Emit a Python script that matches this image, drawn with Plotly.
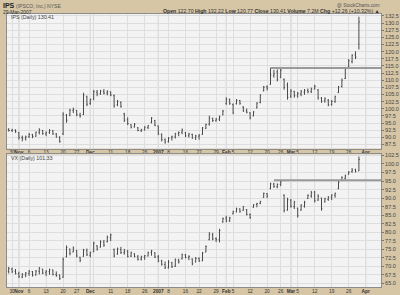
import pandas as pd
import plotly.graph_objects as go

# ---------------- data ----------------
holidays = ['2006-11-23', '2006-12-25', '2007-01-01', '2007-01-02',
            '2007-01-15', '2007-02-19', '2007-04-06']
trading_days = [d.strftime('%Y-%m-%d') for d in pd.bdate_range('2006-10-27', '2007-04-13')
                if d.strftime('%Y-%m-%d') not in holidays]

ips_high = [93.2, 93.0, 92.8, 91.8, 90.6, 90.6, 91.5, 91.2, 92.0, 93.2,
            92.6, 92.1, 92.9, 92.6, 91.5, 90.4, 98.8, 98.2, 100.0, 100.4,
            99.6, 98.6, 105.6, 104.6, 103.6, 106.6, 106.6, 106.6, 106.9, 106.5,
            106.1, 105.0, 103.1, 102.6, 98.6, 97.0, 94.6, 95.0, 93.6, 93.0,
            93.9, 94.3, 97.1, 96.1, 94.1, 91.4, 89.6, 90.1, 90.6, 91.6,
            92.1, 93.1, 91.9, 91.6, 91.3, 90.9, 91.1, 93.6, 94.8, 97.6,
            96.9, 96.8, 97.6, 99.6, 104.0, 103.6, 101.9, 103.4, 103.1, 100.9,
            100.1, 98.8, 99.2, 102.3, 105.1, 108.0, 108.2, 114.4, 113.6, 113.8,
            114.4, 110.6, 109.2, 106.9, 106.3, 105.9, 106.6, 106.9, 107.1, 107.4,
            108.4, 106.9, 104.1, 104.0, 103.4, 103.1, 104.6, 108.0, 110.6, 114.6,
            117.4, 119.1, 120.1, 132.22]
ips_low = [92.0, 91.9, 91.6, 89.2, 88.6, 88.9, 89.8, 89.7, 90.2, 91.0,
           90.9, 90.4, 91.2, 90.9, 89.9, 88.1, 90.8, 95.1, 97.4, 98.5,
           97.4, 96.9, 97.8, 100.9, 101.4, 103.0, 104.4, 104.9, 105.0, 104.7,
           104.4, 100.4, 100.9, 100.4, 95.4, 94.3, 93.1, 93.4, 92.1, 91.9,
           92.4, 92.9, 94.9, 93.9, 90.8, 88.6, 87.8, 88.2, 88.9, 89.6,
           90.4, 91.1, 90.1, 89.9, 89.5, 89.1, 89.2, 90.9, 92.9, 94.1,
           95.4, 95.5, 95.7, 97.7, 101.4, 101.4, 98.1, 101.5, 101.4, 98.9,
           98.4, 96.3, 97.4, 100.1, 101.9, 106.1, 106.4, 108.4, 110.9, 109.6,
           110.7, 106.7, 103.2, 103.8, 103.9, 103.9, 104.4, 104.9, 105.4, 105.5,
           106.7, 103.2, 102.1, 102.1, 100.9, 101.1, 102.1, 105.5, 107.4, 110.4,
           114.4, 115.9, 117.4, 120.77]
ips_open = [92.8, 92.4, 92.5, 91.7, 90.0, 89.5, 90.2, 90.9, 90.4, 91.8,
            92.4, 91.2, 91.7, 92.3, 91.2, 90.0, 91.2, 97.8, 97.8, 99.4,
            99.4, 97.8, 98.0, 104.2, 101.9, 103.4, 105.8, 105.2, 106.1, 105.6,
            105.9, 104.6, 101.4, 102.2, 98.2, 96.2, 94.4, 93.7, 93.4, 92.3,
            92.6, 93.4, 95.2, 95.9, 94.0, 91.0, 89.2, 88.5, 89.8, 90.1,
            91.3, 91.8, 91.6, 90.6, 91.0, 89.9, 90.4, 91.0, 93.2, 94.6,
            96.6, 95.8, 96.3, 97.9, 101.8, 103.2, 101.5, 101.8, 102.9, 100.6,
            99.3, 98.6, 97.5, 100.4, 102.2, 106.3, 107.7, 108.6, 111.6, 112.9,
            111.0, 110.3, 108.3, 104.4, 106.0, 104.5, 105.2, 105.8, 106.4, 106.0,
            107.0, 106.6, 103.8, 102.8, 103.0, 101.5, 102.5, 105.7, 107.8, 110.6,
            114.6, 116.5, 118.9, 122.70]
ips_close = [92.4, 92.6, 91.9, 90.0, 89.6, 90.2, 91.0, 90.3, 91.8, 92.6,
             91.3, 91.7, 92.4, 91.2, 90.1, 88.6, 98.0, 96.0, 99.5, 99.8,
             97.9, 97.5, 104.8, 101.6, 103.2, 106.0, 105.2, 106.2, 105.5, 106.0,
             104.8, 101.0, 102.6, 100.8, 96.0, 94.8, 93.5, 94.6, 92.4, 92.7,
             93.6, 94.1, 96.8, 94.2, 91.2, 89.2, 88.4, 89.7, 90.2, 91.2,
             91.7, 92.6, 90.5, 91.2, 89.8, 90.5, 90.8, 93.3, 94.5, 96.8,
             95.9, 96.4, 97.2, 99.2, 103.4, 101.8, 98.6, 103.0, 101.9, 99.3,
             98.8, 96.8, 98.9, 102.0, 104.8, 107.6, 107.2, 111.8, 112.3, 110.2,
             113.5, 107.4, 104.0, 106.2, 104.6, 105.4, 106.0, 106.5, 106.0, 107.0,
             107.9, 103.8, 102.6, 103.5, 101.4, 102.6, 104.2, 107.6, 110.0, 114.0,
             116.8, 118.7, 118.15, 130.41]

vx_high = [69.8, 69.6, 69.2, 68.4, 68.0, 68.3, 68.9, 68.6, 68.9, 69.8,
           69.2, 68.9, 69.3, 69.0, 68.5, 67.6, 72.6, 76.1, 75.2, 75.8,
           74.8, 72.8, 75.1, 75.2, 74.3, 77.2, 76.2, 77.6, 77.7, 79.0,
           79.6, 75.2, 75.5, 75.7, 75.1, 74.8, 74.3, 73.8, 73.3, 73.1,
           73.3, 74.3, 74.8, 74.1, 73.3, 71.9, 71.4, 71.8, 71.3, 72.3,
           72.2, 73.7, 73.6, 73.2, 72.3, 72.7, 72.6, 74.2, 76.1, 80.0,
           79.8, 78.5, 81.0, 84.3, 84.8, 84.5, 86.3, 87.2, 87.0, 87.7,
           86.8, 85.5, 88.2, 88.6, 89.2, 91.6, 91.5, 94.5, 94.5, 94.3,
           95.0, 91.1, 90.1, 89.7, 89.2, 87.2, 88.2, 89.2, 91.1, 92.1,
           92.1, 91.1, 90.1, 90.1, 90.6, 91.1, 91.6, 95.0, 96.4, 96.9,
           97.9, 98.8, 98.6, 102.2]
vx_low = [67.9, 68.0, 67.6, 66.6, 66.5, 66.8, 67.2, 67.0, 67.3, 67.6,
          67.7, 67.1, 67.5, 67.3, 66.9, 66.0, 66.6, 72.6, 73.2, 74.1,
          72.6, 71.2, 72.8, 73.0, 72.6, 74.1, 74.6, 75.5, 75.7, 77.0,
          77.4, 72.6, 73.4, 73.6, 73.4, 72.6, 72.7, 72.6, 71.7, 71.7,
          71.9, 72.9, 73.1, 72.4, 71.2, 70.2, 69.2, 69.3, 69.5, 69.8,
          70.8, 72.0, 72.3, 71.8, 70.3, 71.2, 71.3, 71.5, 74.1, 77.6,
          77.6, 77.1, 77.0, 82.8, 82.9, 83.0, 85.2, 85.8, 85.7, 86.3,
          84.9, 83.9, 87.2, 87.3, 88.2, 90.1, 90.0, 92.6, 93.0, 92.9,
          93.5, 85.8, 86.3, 87.2, 86.8, 84.3, 86.3, 87.2, 89.7, 90.1,
          88.7, 89.2, 86.3, 88.7, 89.2, 89.4, 90.1, 92.6, 95.0, 95.4,
          96.9, 97.4, 97.5, 97.9]
vx_open = [68.5, 69.2, 68.5, 67.9, 66.9, 67.4, 67.9, 68.4, 67.4, 68.5,
           69.2, 68.1, 68.4, 68.9, 67.6, 67.4, 66.8, 72.8, 75.0, 74.2,
           74.6, 72.6, 72.9, 74.6, 73.2, 74.3, 76.0, 75.6, 77.1, 77.2,
           78.4, 74.9, 73.6, 74.9, 74.0, 74.4, 73.0, 73.7, 72.8, 72.1,
           72.7, 73.0, 74.1, 74.0, 72.8, 71.6, 70.5, 69.6, 71.0, 70.0,
           71.8, 72.2, 73.3, 72.6, 72.1, 71.2, 72.3, 71.6, 74.2, 77.8,
           79.2, 78.1, 77.8, 83.0, 84.1, 83.3, 85.4, 86.0, 86.8, 86.4,
           86.6, 85.2, 87.3, 88.1, 88.4, 90.2, 91.3, 92.8, 94.1, 93.3,
           94.0, 90.8, 86.5, 89.4, 87.5, 87.0, 86.5, 87.6, 89.9, 90.6,
           91.8, 89.4, 90.0, 88.9, 89.6, 90.3, 90.8, 92.8, 95.2, 95.8,
           97.0, 97.8, 98.4, 98.0]
vx_close = [69.3, 68.4, 67.9, 66.9, 67.6, 68.0, 68.5, 67.3, 68.6, 69.5,
            68.0, 68.5, 69.0, 67.6, 67.3, 66.4, 72.0, 75.5, 73.8, 75.4,
            73.0, 71.8, 74.8, 73.4, 74.0, 76.8, 75.0, 77.2, 76.2, 78.6,
            79.2, 73.0, 75.1, 74.0, 74.6, 72.9, 74.0, 72.9, 72.0, 72.8,
            73.1, 74.0, 74.5, 72.7, 71.5, 70.6, 69.6, 71.2, 69.9, 71.9,
            71.3, 73.4, 72.6, 72.9, 70.7, 72.3, 71.6, 73.9, 75.8, 79.4,
            78.0, 77.8, 80.5, 84.0, 83.3, 84.2, 86.0, 86.8, 86.1, 87.5,
            85.2, 84.3, 88.0, 88.4, 89.0, 91.4, 90.6, 94.2, 93.4, 94.0,
            94.8, 86.4, 89.5, 87.6, 88.8, 84.8, 87.9, 88.8, 90.8, 91.6,
            89.2, 90.6, 86.9, 89.8, 90.2, 90.9, 91.4, 94.6, 96.0, 96.5,
            97.6, 98.2, 97.8, 101.33]

# horizontal resistance lines (level, start date)
ips_line_level, ips_line_start = 114.3, '2007-02-21'
vx_line_level, vx_line_start = 95.2, '2007-02-22'

tick_dates = ['2006-10-30', '2006-11-01', '2006-11-06', '2006-11-13', '2006-11-20',
              '2006-11-27', '2006-12-01', '2006-12-04', '2006-12-11', '2006-12-18',
              '2006-12-26', '2007-01-03', '2007-01-08', '2007-01-16', '2007-01-22',
              '2007-01-29', '2007-02-01', '2007-02-05', '2007-02-12', '2007-02-20',
              '2007-02-26', '2007-03-01', '2007-03-05', '2007-03-12', '2007-03-19',
              '2007-03-26', '2007-04-02']
tick_text = ['30', '<b>Nov</b>', '6', '13', '20', '27', '<b>Dec</b>', '', '11', '18',
             '26', '<b>2007</b>', '8', '16', '22', '29', '<b>Feb</b>', '5', '12', '20',
             '26', '<b>Mar</b>', '5', '12', '19', '26', '<b>Apr</b>']
month_dates = ['2006-11-01', '2006-12-01', '2007-01-03', '2007-02-01', '2007-03-01', '2007-04-02']

# ---------------- build ----------------
pos = {d: i for i, d in enumerate(trading_days)}
n = len(ips_close)
xs = list(range(n))
tickvals = [pos[d] for d in tick_dates]
x_range = [-0.5, 109.5]

W, H = 400, 295
TAN = '#d6c6a6'
PLOT_BG = '#f3f3f3'
GRID = '#dedede'
BAR = '#4a4a4a'
FONT = 'Liberation Sans, Arial, sans-serif'

def px(x):
    return x / W

def py(y):
    return 1 - y / H

fig = go.Figure()

fig.add_trace(go.Ohlc(x=xs, open=ips_open, high=ips_high, low=ips_low, close=ips_close,
                      increasing=dict(line=dict(color=BAR, width=1)),
                      decreasing=dict(line=dict(color=BAR, width=1)),
                      tickwidth=0.25, xaxis='x', yaxis='y', hoverinfo='skip',
                      showlegend=False))
fig.add_trace(go.Ohlc(x=xs, open=vx_open, high=vx_high, low=vx_low, close=vx_close,
                      increasing=dict(line=dict(color=BAR, width=1)),
                      decreasing=dict(line=dict(color=BAR, width=1)),
                      tickwidth=0.25, xaxis='x2', yaxis='y2', hoverinfo='skip',
                      showlegend=False))

fig.add_trace(go.Scatter(x=[pos[ips_line_start], x_range[1]], y=[ips_line_level] * 2,
                         mode='lines', line=dict(color='#9a9a9a', width=2),
                         xaxis='x', yaxis='y', hoverinfo='skip', showlegend=False))
fig.add_trace(go.Scatter(x=[pos[vx_line_start], x_range[1]], y=[vx_line_level] * 2,
                         mode='lines', line=dict(color='#9a9a9a', width=2),
                         xaxis='x2', yaxis='y2', hoverinfo='skip', showlegend=False))

xdom = [px(7), px(381)]
top_dom = [py(147.5), py(12)]
bot_dom = [py(287), py(153.5)]

xaxis_common = dict(range=x_range, tickvals=tickvals, ticktext=tick_text, tickangle=0,
                    showgrid=True, gridcolor=GRID, gridwidth=1, zeroline=False,
                    showline=True, linecolor='#8c8c8c', linewidth=1, mirror=True,
                    ticks='', ticklabelstandoff=-1,
                    tickfont=dict(family=FONT, size=4.8, color='#333'),
                    rangeslider=dict(visible=False), fixedrange=True, domain=xdom)
yaxis_common = dict(side='right', dtick=2.5, tickformat='.1f', showgrid=True,
                    gridcolor=GRID, gridwidth=1, zeroline=False, showline=True,
                    linecolor='#8c8c8c', linewidth=1, mirror=True, ticks='outside',
                    ticklen=2, tickcolor='#777',
                    tickfont=dict(family=FONT, size=5.5, color='#444'), fixedrange=True)

fig.update_layout(
    width=W, height=H, margin=dict(l=0, r=0, t=0, b=0),
    paper_bgcolor=TAN, plot_bgcolor=PLOT_BG, showlegend=False,
    xaxis=dict(**xaxis_common, anchor='y'),
    xaxis2=dict(**xaxis_common, anchor='y2', matches='x'),
    yaxis=dict(**yaxis_common, range=[86.1, 133.2], tick0=87.5, domain=top_dom, anchor='x'),
    yaxis2=dict(**yaxis_common, range=[63.9, 102.8], tick0=65, domain=bot_dom, anchor='x2'),
)

shapes = []
for d in month_dates:
    for xr, yr in (('x', 'y domain'), ('x2', 'y2 domain')):
        shapes.append(dict(type='line', xref=xr, yref=yr, x0=pos[d], x1=pos[d], y0=0, y1=1,
                           line=dict(color='#c4c4c4', width=1), layer='below'))
fig.update_layout(shapes=shapes)

def note(text, x, y, size=6, color='#333', xanchor='left'):
    fig.add_annotation(text=text, x=px(x), y=py(y), xref='paper', yref='paper',
                       xanchor=xanchor, yanchor='middle', showarrow=False,
                       font=dict(family=FONT, size=size, color=color))

note('<b>IPS</b>', 1, 4, size=7, color='#222')
note('(IPSCO, Inc.) NYSE', 14, 4, size=5, color='#555')
note('29-Mar-2007', 1, 10, size=5, color='#333')
note('@ StockCharts.com', 382, 3.5, size=4.8, color='#555', xanchor='right')
note('<b>Open</b> 122.70 <b>High</b> 132.22 <b>Low</b> 120.77 <b>Close</b> 130.41 '
     '<b>Volume</b> 7.2M <b>Chg</b> +12.26 (+10.32%) ▲', 382, 9.5, size=5.2,
     color='#333', xanchor='right')
note('IPS (Daily) 130.41', 9, 15.5, size=5.3, color='#444')
note('VX (Daily) 101.33', 9, 157.5, size=5.3, color='#444')

fig.write_html('out.html')
